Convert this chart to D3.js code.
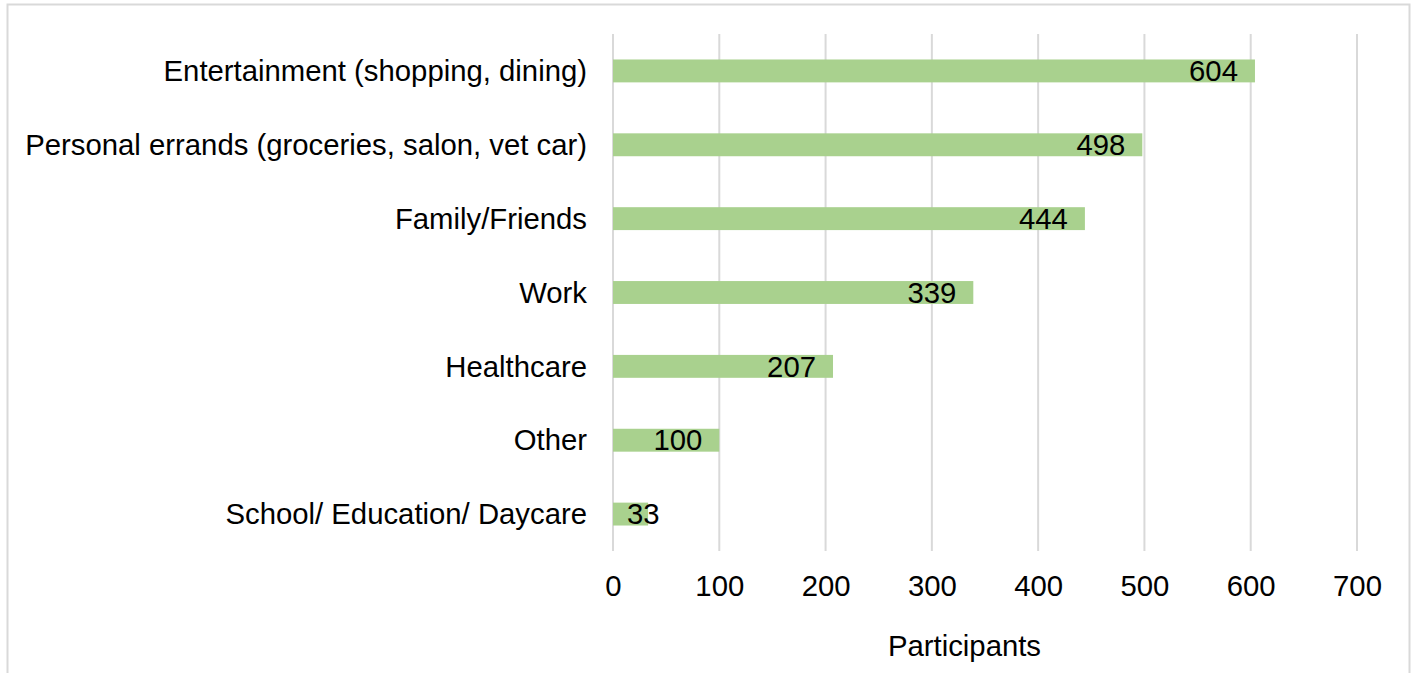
<!DOCTYPE html>
<html>
<head>
<meta charset="utf-8">
<script src="https://cdn.jsdelivr.net/npm/d3@7"></script>
<style>
  html, body { margin: 0; padding: 0; background: #fff; }
  svg text { font-family: "Liberation Sans", Arial, sans-serif; fill: #000; }
</style>
</head>
<body>
<svg id="chart" width="1416" height="673"></svg>
<script>
// Trip purposes and number of participants reporting each
const categories = [
  "Entertainment (shopping, dining)",
  "Personal errands (groceries, salon, vet car)",
  "Family/Friends",
  "Work",
  "Healthcare",
  "Other",
  "School/ Education/ Daycare"
];
const participants = [604, 498, 444, 339, 207, 100, 33];
const xTicks = [0, 100, 200, 300, 400, 500, 600, 700];
const xTitle = "Participants";

const svg = d3.select("#chart");
const fontSize = 29.3;

// outer chart frame
svg.append("rect")
  .attr("x", 7.5).attr("y", 4.5)
  .attr("width", 1402).attr("height", 700)
  .attr("fill", "none").attr("stroke", "#d9d9d9").attr("stroke-width", 2);

const plot = { left: 613, right: 1357, top: 34, bottom: 551 };

const x = d3.scaleLinear().domain([0, 700]).range([plot.left, plot.right]);
const y = d3.scaleBand().domain(categories).range([plot.top, plot.bottom]).paddingInner(0.69).paddingOuter(0.345);

// vertical gridlines
svg.append("g").selectAll("line").data(xTicks).join("line")
  .attr("x1", d => x(d)).attr("x2", d => x(d))
  .attr("y1", plot.top).attr("y2", plot.bottom)
  .attr("stroke", "#d9d9d9").attr("stroke-width", 2);

// x axis tick labels
const xAxis = d3.axisBottom(x).tickValues(xTicks).tickSize(0).tickPadding(0);
const gx = svg.append("g").attr("transform", `translate(0,${plot.bottom})`).call(xAxis);
gx.select(".domain").remove();
gx.selectAll("text")
  .attr("font-size", fontSize).attr("font-family", null)
  .attr("y", 45).attr("dy", null).attr("fill", "#000");

// category labels
const yAxis = d3.axisLeft(y).tickSize(0).tickPadding(0);
const gy = svg.append("g").attr("transform", `translate(587,0)`).call(yAxis);
gy.select(".domain").remove();
gy.selectAll("text")
  .attr("font-size", fontSize).attr("font-family", null)
  .attr("dy", "0.35em").attr("fill", "#000");

// bars
svg.append("g").selectAll("rect").data(participants).join("rect")
  .attr("x", x(0))
  .attr("y", (d, i) => y(categories[i]))
  .attr("width", d => x(d) - x(0))
  .attr("height", y.bandwidth())
  .attr("fill", "#a9d18e");

// value labels, right-aligned inside the bar end
const labels = svg.append("g").selectAll("text").data(participants).join("text")
  .attr("font-size", fontSize)
  .attr("text-anchor", "end")
  .attr("y", (d, i) => y(categories[i]) + y.bandwidth() / 2)
  .attr("dy", "0.35em")
  .text(d => d);
labels.each(function(d) {
  const w = this.getComputedTextLength();
  const right = Math.max(x(d) - 17, x(0) + 14 + w);
  d3.select(this).attr("x", right);
});

// axis title
svg.append("text")
  .attr("x", 964.5).attr("y", 656)
  .attr("text-anchor", "middle")
  .attr("font-size", fontSize)
  .text(xTitle);
</script>
</body>
</html>
